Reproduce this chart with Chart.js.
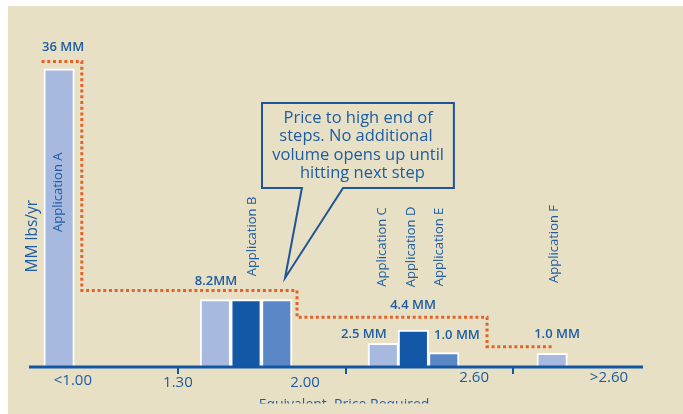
<!DOCTYPE html>
<html>
<head>
<meta charset="utf-8">
<script src="https://cdn.jsdelivr.net/npm/chart.js@4/dist/chart.umd.min.js"></script>
<style>
    html, body { margin: 0; padding: 0; background: #fff; }
    canvas { display: block; }
</style>
</head>
<body>
<canvas id="stepChart" width="683" height="414"></canvas>
<script>
// Bars: position along the price axis (in bar widths) and volume, MM lbs/yr
const barX = [0.98, 6.07, 7.07, 8.07, 11.54, 12.52, 13.51, 17.04];
const barValues = [36, 8.15, 8.15, 8.15, 2.86, 4.47, 1.73, 1.65];

// Supply step curve (orange dotted line)
const stepX = [0.41, 1.72, 8.73, 14.92, 17.04];
const stepY = [36.9, 9.24, 6.0, 2.45, 2.45];

// Application names written vertically above the bars
const appNames = ['Application A', 'Application B', 'Application C', 'Application D', 'Application E', 'Application F'];
const appX = [0.94, 7.28, 11.5, 12.44, 13.37, 17.1];
const appY = [21.1, 15.76, 14.5, 14.5, 14.5, 14.86];

// Volume labels
const volumeLabels = ['36 MM', '8.2MM', '2.5 MM', '4.4 MM', '1.0 MM', '1.0 MM'];
const volumeX = [1.11, 6.09, 10.91, 12.51, 13.94, 17.2];
const volumeY = [38.6, 10.33, 3.99, 7.49, 3.8, 3.93];

// Price axis
const priceLabels = ['<1.00', '1.30', '2.00', '2.60', '>2.60'];
const priceX = [1.43, 4.85, 8.99, 14.5, 18.89];
const tickMarkX = [4.85, 10.33, 15.77];

const calloutLines = ['Price to high end of', 'steps. No additional ', 'volume opens up until', '  hitting next step'];

const colors = {
    background: '#E8E0C4',
    text: '#1D5CA3',
    axis: '#1356A3',
    light: '#A8B9DF',
    dark: '#1358A7',
    medium: '#5A87C6',
    step: '#E2622B',
    callout: '#1F5597'
};
const barShades = ['light', 'light', 'dark', 'medium', 'light', 'dark', 'medium', 'light'];
const priceLabelDrop = [14, 15.7, 15.7, 11, 11];
const FONT = '"Open Sans", "DejaVu Sans", sans-serif';

let chart;

document.addEventListener('DOMContentLoaded', () => {
    initializeChart();
});

// Beige panel behind the chart
const backgroundPlugin = {
    id: 'panel',
    beforeDraw(c) {
        const ctx = c.ctx;
        ctx.save();
        ctx.fillStyle = colors.background;
        ctx.fillRect(8, 6, c.width - 8, c.height - 6);
        ctx.restore();
    }
};

// Axis line, ticks, texts and the callout box
const annotationPlugin = {
    id: 'annotations',
    afterDraw(c) {
        const ctx = c.ctx;
        const x = c.scales.x;
        const y = c.scales.y;
        const area = c.chartArea;
        const base = y.getPixelForValue(0);

        ctx.save();

        // x axis line and tick marks
        ctx.strokeStyle = colors.axis;
        ctx.lineWidth = 3;
        ctx.beginPath();
        ctx.moveTo(area.left, base);
        ctx.lineTo(area.right, base);
        ctx.stroke();
        ctx.lineWidth = 2;
        tickMarkX.forEach(t => {
            const px = Math.round(x.getPixelForValue(t));
            ctx.beginPath();
            ctx.moveTo(px, base);
            ctx.lineTo(px, base + 7);
            ctx.stroke();
        });

        ctx.fillStyle = colors.text;
        ctx.textAlign = 'center';
        ctx.textBaseline = 'middle';

        // price labels
        ctx.font = '15px ' + FONT;
        priceLabels.forEach((label, i) => {
            ctx.fillText(label, x.getPixelForValue(priceX[i]), base + priceLabelDrop[i]);
        });

        // axis title, cut off by the panel edge as in the original
        ctx.save();
        ctx.beginPath();
        ctx.rect(0, 0, c.width, 403.5);
        ctx.clip();
        ctx.textBaseline = 'alphabetic';
        ctx.font = '14px ' + FONT;
        ctx.fillText('Equivalent  Price Required', x.getPixelForValue(10.26), 409);
        ctx.restore();

        // y title
        ctx.save();
        ctx.translate(x.getPixelForValue(0.11), y.getPixelForValue(15.8));
        ctx.rotate(-Math.PI / 2);
        ctx.font = '15.5px ' + FONT;
        ctx.fillText('MM lbs/yr', 0, 0);
        ctx.restore();

        // application names
        ctx.font = '13px ' + FONT;
        appNames.forEach((name, i) => {
            ctx.save();
            ctx.translate(x.getPixelForValue(appX[i]), y.getPixelForValue(appY[i]));
            ctx.rotate(-Math.PI / 2);
            ctx.fillText(name, 0, 0);
            ctx.restore();
        });

        // volume labels
        ctx.font = '600 13px ' + FONT;
        volumeLabels.forEach((label, i) => {
            ctx.fillText(label, x.getPixelForValue(volumeX[i]), y.getPixelForValue(volumeY[i]));
        });

        // callout with pointer
        const left = x.getPixelForValue(7.59);
        const right = x.getPixelForValue(13.84);
        const top = y.getPixelForValue(31.88);
        const bottom = y.getPixelForValue(21.62);
        ctx.strokeStyle = colors.callout;
        ctx.lineWidth = 2;
        ctx.lineJoin = 'miter';
        ctx.beginPath();
        ctx.moveTo(x.getPixelForValue(10.23), bottom);
        ctx.lineTo(right, bottom);
        ctx.lineTo(right, top);
        ctx.lineTo(left, top);
        ctx.lineTo(left, bottom);
        ctx.lineTo(x.getPixelForValue(8.89), bottom);
        ctx.lineTo(x.getPixelForValue(8.34), y.getPixelForValue(10.75));
        ctx.closePath();
        ctx.stroke();

        ctx.font = '16.5px ' + FONT;
        const cx = x.getPixelForValue(10.72);
        calloutLines.forEach((line, i) => {
            ctx.fillText(line, cx, top + 15 + i * 18.4);
        });

        ctx.restore();
    }
};

// Build the chart
function initializeChart() {
    const ctx = document.getElementById('stepChart').getContext('2d');
    chart = new Chart(ctx, {
        type: 'bar',
        data: {
            datasets: [{
                label: 'Applications',
                data: barX.map((v, i) => ({ x: v, y: barValues[i] })),
                backgroundColor: barShades.map(s => colors[s]),
                borderColor: '#ffffff',
                borderWidth: 2,
                borderSkipped: 'bottom',
                barThickness: 30.5,
                order: 2
            }, {
                type: 'line',
                label: 'Supply steps',
                data: stepX.map((v, i) => ({ x: v, y: stepY[i] })),
                stepped: true,
                borderColor: colors.step,
                borderWidth: 3,
                borderDash: [3, 2.7],
                borderCapStyle: 'butt',
                pointRadius: 0,
                fill: false,
                order: 1
            }]
        },
        options: {
            responsive: false,
            devicePixelRatio: 1,
            animation: false,
            layout: {
                padding: { left: 29, right: 40, top: 19.2, bottom: 47 }
            },
            plugins: {
                legend: { display: false },
                tooltip: { enabled: false }
            },
            scales: {
                x: { type: 'linear', min: 0, max: 20, offset: false, display: false },
                y: { min: 0, max: 42, display: false }
            }
        },
        plugins: [backgroundPlugin, annotationPlugin]
    });
}
</script>
</body>
</html>
